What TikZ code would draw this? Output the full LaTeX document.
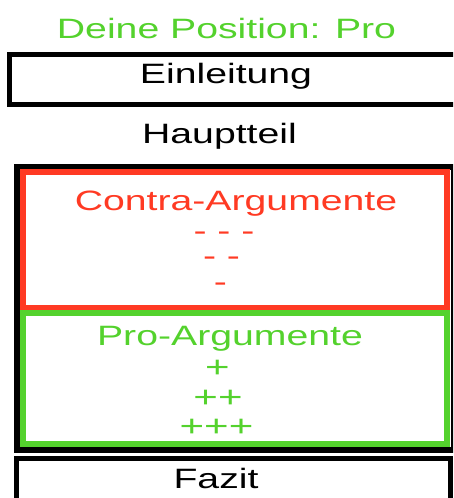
\documentclass[tikz,border=0pt]{standalone}
\usepackage{fontspec}
\setmainfont[FakeStretch=1.4]{Liberation Sans}
\definecolor{posgreen}{RGB}{84,210,45}
\definecolor{conred}{RGB}{255,58,35}
\begin{document}
\begin{tikzpicture}[x=1pt,y=-1pt,
  txt/.style={inner sep=0pt,anchor=base,font=\fontsize{28}{34}\selectfont},
  plus/.style={txt,text=posgreen,font=\fontsize{30}{34}\selectfont},
  frame/.style={line width=6pt}]
\useasboundingbox (0,0) rectangle (453,498);
\clip (0,0) rectangle (453,498);
\fill[white] (0,0) rectangle (453,498);
% boxes
\draw[frame,line width=5.5pt] (9.5,54.5) rectangle (470,104.5);
\draw[frame,black] (17,167) rectangle (453.5,449.5);
\draw[frame,conred] (23,172) rectangle (447,307.5);
\draw[frame,posgreen] (23,313) rectangle (447,444);
\draw[frame,line width=5pt] (16.5,458) rectangle (450.5,520);
% texts
\node[txt,text=posgreen] (pos) at (226.5,38) {Deine Position: Pro};
\node[txt] (ein) at (226,83) {Einleitung};
\node[txt] (haupt) at (219.5,143) {Hauptteil};
\node[txt,text=conred] (contra) at (236,210) {Contra-Argumente};
\node[txt,text=conred] (c3) at (224,240) {- - -};
\node[txt,text=conred] (c2) at (221.5,265.5) {- -};
\node[txt,text=conred] (c1) at (220.5,291) {-};
\node[txt,text=posgreen] (pro) at (230,345) {Pro-Argumente};
\node[plus] (p1) at (217.5,377.5) {+};
\node[plus] (p2) at (218,407.5) {++};
\node[plus] (p3) at (216.5,436.5) {+++};
\node[txt] (fazit) at (216,488) {Fazit};
\end{tikzpicture}
\end{document}
